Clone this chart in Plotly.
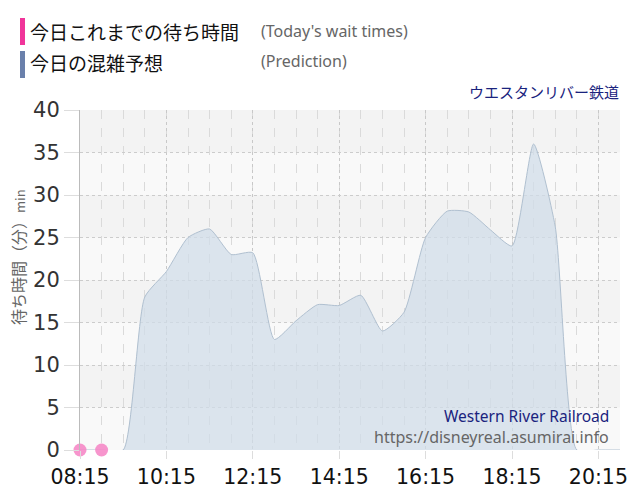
import plotly.graph_objects as go

# ---- data ----
pred_times = ["08:15", "08:45", "09:15", "09:45", "10:15", "10:45", "11:15", "11:45",
              "12:15", "12:45", "13:15", "13:45", "14:15", "14:45", "15:15", "15:45",
              "16:15", "16:45", "17:15", "17:45", "18:15", "18:45", "19:15", "19:45",
              "20:15", "20:45"]
pred_values = [0, 0, 0, 18, 21, 25, 26, 23, 23.2, 13, 15.2, 17.1, 17, 18.2, 14, 16.2,
               25, 28.1, 28, 25.9, 24, 36, 26.3, 0, 0, 0]
actual_times = ["08:15", "08:45"]
actual_values = [0, 0]
tick_labels = ["08:15", "10:15", "12:15", "14:15", "16:15", "18:15", "20:15"]
y_ticks = [0, 5, 10, 15, 20, 25, 30, 35, 40]

DAY = "2024-01-01 "
def ts(t):
    return DAY + t + ":00"

L, R, T, B = 80, 20, 110, 50
PW, PH = 640 - L - R, 500 - T - B

def px(x):
    return (x - L) / PW

def py(y):
    return 1 - (y - T) / PH

fig = go.Figure()

fig.add_trace(go.Scatter(
    x=[ts(t) for t in pred_times], y=pred_values,
    mode="lines", line=dict(color="rgb(176,192,208)", width=1, shape="spline", smoothing=0.55),
    fill="tozeroy", fillcolor="rgba(208,220,232,0.75)", hoverinfo="skip", showlegend=False))

fig.add_trace(go.Scatter(
    x=[ts(t) for t in actual_times], y=actual_values,
    mode="markers", marker=dict(size=13, color="rgba(246,130,196,0.85)"),
    cliponaxis=False, showlegend=False))

# alternating horizontal bands
for lo in range(0, 40, 10):
    fig.add_shape(type="rect", xref="paper", yref="y", x0=0, x1=1, y0=lo, y1=lo + 5,
                  fillcolor="#f9f9f9", line=dict(width=0), layer="below")
# legend bars
fig.add_shape(type="rect", xref="paper", yref="paper", x0=px(20), x1=px(25),
              y0=py(45), y1=py(18), fillcolor="#f0359a", line=dict(width=0))
fig.add_shape(type="rect", xref="paper", yref="paper", x0=px(20), x1=px(25),
              y0=py(78), y1=py(51), fillcolor="#6a80ab", line=dict(width=0))

ticks_x = [ts(t) for t in tick_labels]

fig.update_layout(
    width=640, height=500,
    margin=dict(l=L, r=R, t=T, b=B),
    paper_bgcolor="white", plot_bgcolor="#f3f3f3",
    font=dict(family="DejaVu Sans", color="#333"),
    xaxis=dict(
        type="date", range=[ts("08:15"), ts("20:45")], automargin=False,
        tickvals=ticks_x, ticktext=tick_labels,
        tickfont=dict(size=20.5, color="#111", family="DejaVu Sans"),
        showgrid=True, gridcolor="#c8c8c8", griddash="dot", gridwidth=1,
        ticks="outside", ticklen=8, tickcolor="#dddddd",
        minor=dict(dtick=30 * 60 * 1000, tick0=ts("08:15"), showgrid=True,
                   gridcolor="#dadada", griddash="dash", gridwidth=1),
        showline=False, zeroline=False, fixedrange=True,
    ),
    yaxis=dict(
        range=[0, 40], tickvals=y_ticks, automargin=False,
        tickfont=dict(size=21, color="#333", family="DejaVu Sans"),
        showgrid=True, gridcolor="#cccccc", griddash="dot", gridwidth=1,
        ticks="outside", ticklen=15, tickcolor="#dddddd",
        showline=True, linecolor="#bbbbbb", linewidth=1,
        zeroline=False, fixedrange=True,
    ),
)

fig.add_annotation(text="待ち時間（分）<span style='font-size:13px'>min</span>",
                   xref="paper", yref="paper", x=px(18), y=py(257), textangle=-90,
                   xanchor="center", yanchor="middle", showarrow=False,
                   font=dict(family="Noto Sans CJK JP", size=16, color="#666"))

ann = [
    dict(text="今日これまでの待ち時間", x=28, y=32, font=dict(size=19, color="#111", family="Noto Sans CJK JP")),
    dict(text="(Today's wait times)", x=259, y=31, font=dict(size=16, color="#666", family="Noto Sans")),
    dict(text="今日の混雑予想", x=28, y=62, font=dict(size=19, color="#111", family="Noto Sans CJK JP")),
    dict(text="(Prediction)", x=259, y=61, font=dict(size=16, color="#666", family="Noto Sans")),
]
for a in ann:
    fig.add_annotation(text=a["text"], xref="paper", yref="paper",
                       x=px(a["x"]), y=py(a["y"]),
                       xanchor="left", yanchor="middle", showarrow=False, font=a["font"])

fig.add_annotation(text="ウエスタンリバー鉄道", xref="paper", yref="paper",
                   x=px(621), y=py(91), xanchor="right", yanchor="middle",
                   showarrow=False, font=dict(size=15, color="#1a237e", family="Noto Sans CJK JP"))
fig.add_annotation(text="Western River Railroad", xref="paper", yref="paper",
                   x=px(611), y=py(416), xanchor="right", yanchor="middle",
                   showarrow=False, font=dict(size=15.5, color="#1a237e", family="Noto Sans"))
fig.add_annotation(text="https://disneyreal.asumirai.info", xref="paper", yref="paper",
                   x=px(611), y=py(437), xanchor="right", yanchor="middle",
                   showarrow=False, font=dict(size=16, color="#666", family="Noto Sans"))

fig.write_html("out.html", config={"displayModeBar": False},
               post_script="document.body.style.margin='0';")
